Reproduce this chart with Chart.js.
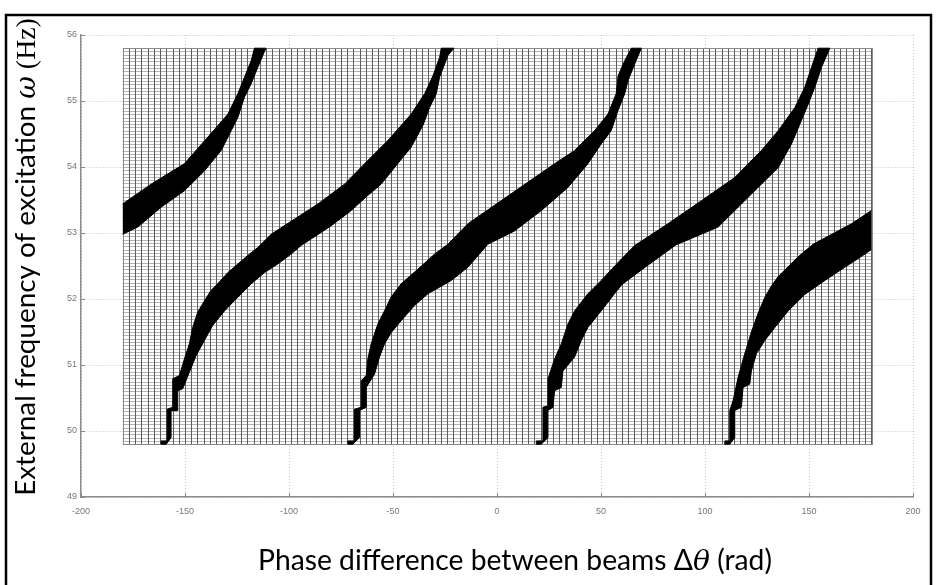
<!DOCTYPE html>
<html>
<head>
<meta charset="utf-8">
<script src="https://cdn.jsdelivr.net/npm/chart.js@4.4.1/dist/chart.umd.min.js"></script>
<style>
  html, body { margin: 0; padding: 0; background: #fff; }
  #chart { display: block; }
</style>
</head>
<body>
<canvas id="chart" width="936" height="585"></canvas>
<script>
// Axis ticks
const xTicks = [-200, -150, -100, -50, 0, 50, 100, 150, 200];
const yTicks = [49, 50, 51, 52, 53, 54, 55, 56];

// Computed cell grid (phase x frequency)
const meshX = [-180, 180];
const meshY = [49.8, 55.8];
const meshCols = 120;
const meshRows = 120;

// Black bands, [phase, frequency] along upper-left edge and lower-right edge
const bandAUpper = [[-180, 53.44], [-166.3, 53.74], [-150.3, 54.05], [-139.1, 54.45], [-129.4, 54.80],
  [-124.6, 55.11], [-121.4, 55.36], [-118.2, 55.61], [-116.6, 55.8], [-111, 55.8]];
const bandALower = [[-180, 52.98], [-172.7, 53.09], [-161.5, 53.39], [-150.3, 53.64], [-140.7, 53.94],
  [-132.6, 54.25], [-127.8, 54.55], [-124.6, 54.75], [-121.4, 55.06], [-118.2, 55.26], [-115.0, 55.51],
  [-111.8, 55.75], [-111, 55.8]];

const bandBUpper = [[-161.5, 49.8], [-161.5, 49.85], [-158.6, 49.85], [-158.6, 50.33], [-155.9, 50.36],
  [-155.9, 50.79], [-152.7, 50.84], [-150.3, 51.09], [-147.9, 51.32], [-146.3, 51.57], [-143.9, 51.80],
  [-140.7, 51.97], [-137.5, 52.13], [-134.3, 52.23], [-129.4, 52.40], [-124.6, 52.53], [-119.8, 52.66],
  [-115.0, 52.78], [-108.6, 52.98], [-97.4, 53.21], [-86.1, 53.44], [-73.3, 53.74], [-62.1, 54.10],
  [-52.5, 54.40], [-41.3, 54.80], [-34.8, 55.11], [-30.8, 55.38], [-27.6, 55.66], [-26.8, 55.8], [-20.7, 55.8]];
const bandBLower = [[-161.5, 49.8], [-159, 49.8], [-156.7, 49.9], [-156.7, 50.31], [-153.5, 50.31],
  [-153.5, 50.61], [-151.1, 50.64], [-147.9, 50.89], [-144.7, 51.14], [-140.7, 51.37], [-136.7, 51.60],
  [-131.0, 51.82], [-127.0, 51.95], [-118.2, 52.23], [-111.8, 52.40], [-105.4, 52.53], [-99.0, 52.68],
  [-94.2, 52.81], [-79.7, 53.11], [-70.1, 53.34], [-62.1, 53.57], [-55.7, 53.74], [-49.3, 53.99],
  [-41.3, 54.30], [-35.6, 54.63], [-32.4, 54.90], [-29.2, 55.11], [-27.6, 55.36], [-23.6, 55.69], [-20.7, 55.8]];

const bandCUpper = [[-71.7, 49.8], [-71.7, 49.85], [-68.5, 49.85], [-68.5, 50.33], [-65.3, 50.36],
  [-65.3, 50.76], [-62.9, 50.84], [-62.1, 51.09], [-60.5, 51.32], [-57.3, 51.62], [-54.1, 51.82],
  [-50.9, 52.03], [-46.1, 52.23], [-38.1, 52.45], [-30.0, 52.68], [-23.6, 52.83], [-14.0, 53.14],
  [2.0, 53.49], [18.1, 53.84], [27.7, 54.05], [37.3, 54.25], [46.9, 54.55], [53.3, 54.80], [57.3, 55.11],
  [58.2, 55.38], [61.4, 55.61], [64.6, 55.8], [69.4, 55.8]];
const bandCLower = [[-71.7, 49.8], [-69.3, 49.8], [-66.1, 49.9], [-66.1, 50.31], [-62.9, 50.36],
  [-62.9, 50.66], [-58.9, 50.86], [-56.5, 51.12], [-54.1, 51.32], [-50.9, 51.49], [-46.1, 51.67],
  [-39.7, 51.90], [-33.2, 52.08], [-22.0, 52.28], [-14.0, 52.48], [-4.4, 52.83], [8.4, 53.03],
  [21.3, 53.34], [34.1, 53.69], [43.7, 54.05], [50.1, 54.35], [54.9, 54.55], [58.1, 54.85],
  [61.4, 55.11], [63.0, 55.31], [66.2, 55.56], [69.4, 55.8]];

const bandDUpper = [[18.9, 49.8], [18.9, 49.85], [22.1, 49.85], [22.1, 50.36], [24.5, 50.38],
  [24.5, 50.79], [27.7, 51.09], [30.9, 51.32], [34.1, 51.62], [37.3, 51.82], [43.7, 52.08], [50.1, 52.28],
  [58.1, 52.55], [66.2, 52.81], [82.2, 53.14], [98.3, 53.49], [114.3, 53.84], [127.1, 54.25],
  [135.2, 54.55], [143.2, 54.90], [148.0, 55.21], [151.2, 55.51], [154.4, 55.8], [160.0, 55.8]];
const bandDLower = [[18.9, 49.8], [21.3, 49.8], [24.5, 49.9], [24.5, 50.31], [26.9, 50.36],
  [27.7, 50.61], [30.9, 50.66], [31.7, 50.91], [37.3, 51.12], [40.5, 51.37], [43.7, 51.57], [50.1, 51.82],
  [56.5, 52.08], [60.1, 52.22], [72.0, 52.50], [86.0, 52.82], [106.3, 53.09], [115.9, 53.39],
  [125.5, 53.69], [135.2, 53.99], [141.6, 54.35], [145.6, 54.65], [149.6, 54.95], [152.8, 55.21],
  [156.0, 55.51], [160.0, 55.8]];

const bandEUpper = [[109.5, 49.8], [109.5, 49.85], [111.9, 49.85], [111.9, 50.31], [113.5, 50.46],
  [115.9, 50.81], [119.1, 51.17], [122.3, 51.50], [125.5, 51.78], [128.7, 52.02], [132.0, 52.20],
  [135.2, 52.34], [144.8, 52.64], [152.0, 52.83], [170.4, 53.14], [180, 53.34]];
const bandELower = [[109.5, 49.8], [111.9, 49.8], [114.3, 49.9], [114.3, 50.31], [117.5, 50.36],
  [118.3, 50.66], [121.5, 50.71], [122.3, 50.91], [124.7, 51.17], [128.7, 51.37], [133.6, 51.57],
  [140.0, 51.82], [148.0, 52.07], [157.6, 52.28], [167.2, 52.48], [176.9, 52.68], [180, 52.75]];

const bands = [
  [bandALower, bandAUpper],
  [bandBLower, bandBUpper],
  [bandCLower, bandCUpper],
  [bandDLower, bandDUpper],
  [bandELower, bandEUpper]
];

const xTitle = [
  { text: 'Phase difference between beams Δ', font: 'Lato' },
  { text: 'θ', font: '"DejaVu Serif"', style: 'italic ' },
  { text: ' (rad)', font: 'Lato' }
];
const yTitle = [
  { text: 'External frequency of excitation ', font: 'Lato' },
  { text: 'ω', font: '"DejaVu Serif"', style: 'italic ' },
  { text: ' (Hz)', font: '"Liberation Serif"' }
];

const toPoints = arr => arr.map(p => ({ x: p[0], y: p[1] }));

const datasets = [];
bands.forEach(([lower, upper]) => {
    datasets.push({
        data: toPoints(lower),
        borderColor: '#000', borderWidth: 1, pointRadius: 0, tension: 0, fill: false
    });
    datasets.push({
        data: toPoints(upper),
        borderColor: '#000', borderWidth: 1, pointRadius: 0, tension: 0,
        fill: '-1', backgroundColor: '#000'
    });
});

// draws the mesh of computed cells under the bands
const meshPlugin = {
    id: 'mesh',
    beforeDatasetsDraw(chart) {
        const { ctx, scales: { x, y } } = chart;
        const left = x.getPixelForValue(meshX[0]);
        const right = x.getPixelForValue(meshX[1]);
        const top = y.getPixelForValue(meshY[1]);
        const bottom = y.getPixelForValue(meshY[0]);
        ctx.save();
        ctx.fillStyle = '#fff';
        ctx.fillRect(left, top, right - left, bottom - top);
        ctx.lineWidth = 1;
        ctx.strokeStyle = '#b4b4b4';
        ctx.beginPath();
        for (let i = 0; i <= meshRows; i++) {
            const py = Math.round(y.getPixelForValue(meshY[0] + (meshY[1] - meshY[0]) * i / meshRows)) + 0.5;
            ctx.moveTo(left, py);
            ctx.lineTo(right, py);
        }
        ctx.stroke();
        ctx.strokeStyle = '#5c5c5c';
        ctx.beginPath();
        for (let i = 0; i <= meshCols; i++) {
            const px = Math.round(x.getPixelForValue(meshX[0] + (meshX[1] - meshX[0]) * i / meshCols)) + 0.5;
            ctx.moveTo(px, top);
            ctx.lineTo(px, bottom);
        }
        ctx.stroke();
        ctx.strokeStyle = '#8a8a8a';
        ctx.strokeRect(Math.round(left) + 0.5, Math.round(top) + 0.5, Math.round(right - left), Math.round(bottom - top));
        ctx.restore();
    }
};

function runsWidth(ctx, runs, size) {
    let w = 0;
    runs.forEach(r => {
        ctx.font = (r.style || '') + size + 'px ' + r.font;
        w += ctx.measureText(r.text).width;
    });
    return w;
}

function paintRuns(ctx, runs, size, cx, baseline, target) {
    const s = size * target / runsWidth(ctx, runs, size);
    let pos = cx - runsWidth(ctx, runs, s) / 2;
    ctx.textBaseline = 'alphabetic';
    ctx.textAlign = 'left';
    runs.forEach(r => {
        ctx.font = (r.style || '') + s + 'px ' + r.font;
        ctx.fillText(r.text, pos, baseline);
        pos += ctx.measureText(r.text).width;
    });
}

// background, frame and axis titles
const framePlugin = {
    id: 'frame',
    beforeDraw(chart) {
        const { ctx, width, height } = chart;
        ctx.save();
        ctx.fillStyle = '#fff';
        ctx.fillRect(0, 0, width, height);
        ctx.restore();
    },
    afterDraw(chart) {
        const { ctx, height } = chart;
        ctx.save();
        ctx.strokeStyle = '#000';
        ctx.lineWidth = 2.5;
        ctx.beginPath();
        ctx.moveTo(6, height + 5);
        ctx.lineTo(6, 15);
        ctx.lineTo(931, 15);
        ctx.lineTo(931, height + 5);
        ctx.stroke();

        ctx.fillStyle = '#000';
        paintRuns(ctx, xTitle, 24, 515, 570, 514);
        ctx.translate(35, 257);
        ctx.rotate(-Math.PI / 2);
        paintRuns(ctx, yTitle, 24, 0, 0, 478);
        ctx.restore();
    }
};

new Chart(document.getElementById('chart'), {
    type: 'line',
    data: { datasets: datasets },
    options: {
        responsive: false,
        animation: false,
        layout: { padding: { top: 35, right: 23, left: 0, bottom: 0 } },
        plugins: { legend: { display: false }, tooltip: { enabled: false } },
        scales: {
            x: {
                type: 'linear',
                min: -200, max: 200,
                afterBuildTicks: s => { s.ticks = xTicks.map(v => ({ value: v })); },
                afterFit: s => { s.height = 88; },
                grid: { color: '#c4c4c4', lineWidth: 1, tickLength: -4, tickColor: '#888', tickBorderDash: [] },
                border: { display: true, color: '#8c8c8c', width: 1.5, dash: [1, 2] },
                ticks: {
                    padding: 13, maxRotation: 0, autoSkip: false,
                    color: '#777', font: { family: '"Liberation Sans Narrow", "Liberation Sans"', size: 9 }
                }
            },
            y: {
                type: 'linear',
                min: 49, max: 56,
                afterBuildTicks: s => { s.ticks = yTicks.map(v => ({ value: v })); },
                afterFit: s => { s.width = 81; },
                grid: { color: '#c4c4c4', lineWidth: 1, tickLength: -4, tickColor: '#888', tickBorderDash: [] },
                border: { display: true, color: '#8c8c8c', width: 1.5, dash: [1, 2] },
                ticks: {
                    padding: 8, autoSkip: false,
                    color: '#777', font: { family: '"Liberation Sans Narrow", "Liberation Sans"', size: 9 }
                }
            }
        }
    },
    plugins: [meshPlugin, framePlugin]
});
</script>
</body>
</html>
